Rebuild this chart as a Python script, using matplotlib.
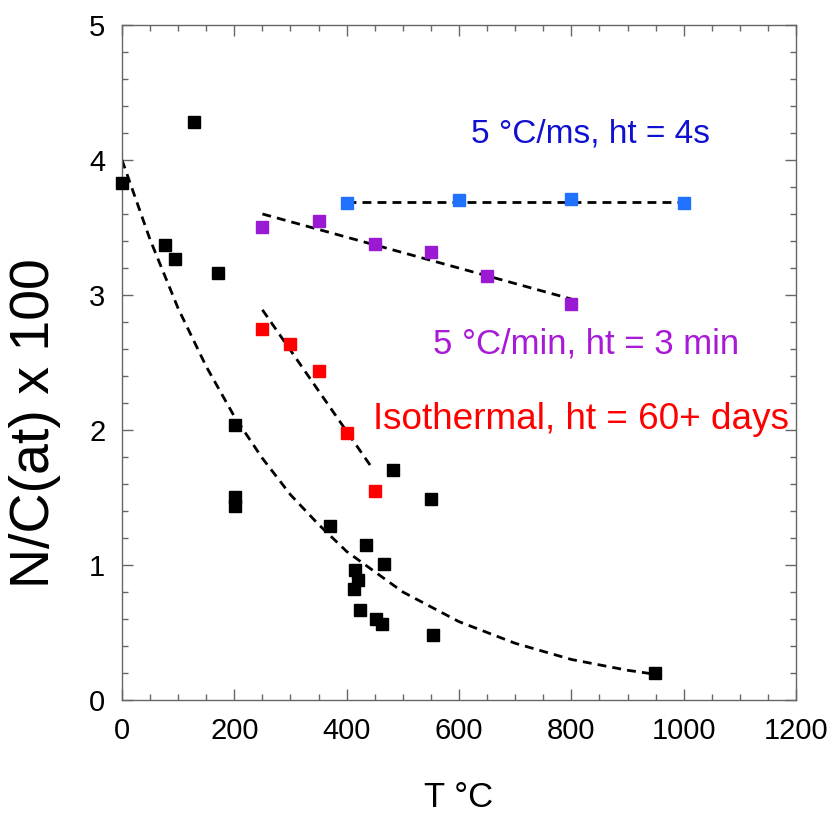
import matplotlib
matplotlib.use("Agg")
import matplotlib.pyplot as plt
from matplotlib.ticker import MultipleLocator

plt.rcParams['font.family'] = ['Liberation Sans', 'DejaVu Sans']

# black points (literature / other data)
black_T = [0, 76, 94, 128, 171, 201, 201, 201, 370, 413, 415, 420, 424, 434,
           452, 463, 466, 482, 550, 554, 949]
black_NC = [3.83, 3.37, 3.27, 4.28, 3.16, 2.04, 1.50, 1.44, 1.29, 0.82, 0.96,
            0.89, 0.67, 1.15, 0.60, 0.56, 1.01, 1.70, 1.49, 0.48, 0.20]

# isothermal, ht = 60+ days
iso_T = [250, 300, 350, 400, 450]
iso_NC = [2.75, 2.64, 2.44, 1.98, 1.55]

# 5 C/min
slow_T = [250, 350, 450, 550, 650, 800]
slow_NC = [3.50, 3.55, 3.38, 3.32, 3.14, 2.93]

# 5 C/ms
fast_T = [400, 600, 800, 1000]
fast_NC = [3.68, 3.70, 3.71, 3.68]

# dashed guide lines
black_fit_T = [0, 50, 100, 150, 200, 250, 300, 350, 400, 500, 600, 700, 800, 900, 950]
black_fit_NC = [4.0, 3.41, 2.90, 2.47, 2.10, 1.79, 1.52, 1.30, 1.10, 0.80, 0.58,
                0.42, 0.30, 0.22, 0.19]
iso_fit_T = [250, 445]
iso_fit_NC = [2.89, 1.72]
slow_fit_T = [250, 800]
slow_fit_NC = [3.60, 2.97]
fast_fit_T = [400, 1000]
fast_fit_NC = [3.69, 3.69]

fig = plt.figure(figsize=(8.35, 8.16), dpi=100)
ax = fig.add_axes([0.1461, 0.1422, 0.8072, 0.8272])

dash = dict(color="black", lw=2.0, ls=(0, (3.2, 2.2)), zorder=2)
ax.plot(black_fit_T, black_fit_NC, **dash)
ax.plot(iso_fit_T, iso_fit_NC, **dash)
ax.plot(slow_fit_T, slow_fit_NC, **dash)
ax.plot(fast_fit_T, fast_fit_NC, **dash)

ax.plot(black_T, black_NC, "s", color="black", ms=8.6, zorder=3, clip_on=False)
ax.plot(iso_T, iso_NC, "s", color="#ff0000", ms=8.0, zorder=3)
ax.plot(slow_T, slow_NC, "s", color="#9a1ad4", ms=8.0, zorder=3)
ax.plot(fast_T, fast_NC, "s", color="#2171ff", ms=8.0, zorder=3)

ax.text(621, 4.126, "5 °C/ms, ht = 4s", color="#1010d0", fontsize=24)
ax.text(554, 2.568, "5 °C/min, ht = 3 min", color="#a81ad6", fontsize=25)
ax.text(447, 2.01, "Isothermal, ht = 60+ days", color="#ff0000", fontsize=26.6)

ax.set_xlim(0, 1200)
ax.set_ylim(0, 5)
ax.xaxis.set_major_locator(MultipleLocator(200))
ax.xaxis.set_minor_locator(MultipleLocator(50))
ax.yaxis.set_major_locator(MultipleLocator(1))
ax.yaxis.set_minor_locator(MultipleLocator(0.2))

ax.tick_params(which="both", direction="in", top=True, right=True,
               color="#666666", width=1)
ax.tick_params(which="major", length=8, labelsize=21, pad=12)
ax.tick_params(which="minor", length=4)
for s in ax.spines.values():
    s.set_color("#666666")
    s.set_linewidth(1)

ax.set_xlabel("T °C", fontsize=25)
ax.xaxis.set_label_coords(0.5, -0.12)
ax.set_ylabel("N/C(at) x 100", fontsize=40)
ax.yaxis.set_label_coords(-0.09, 0.41)

fig.savefig("out.png", dpi=100)
